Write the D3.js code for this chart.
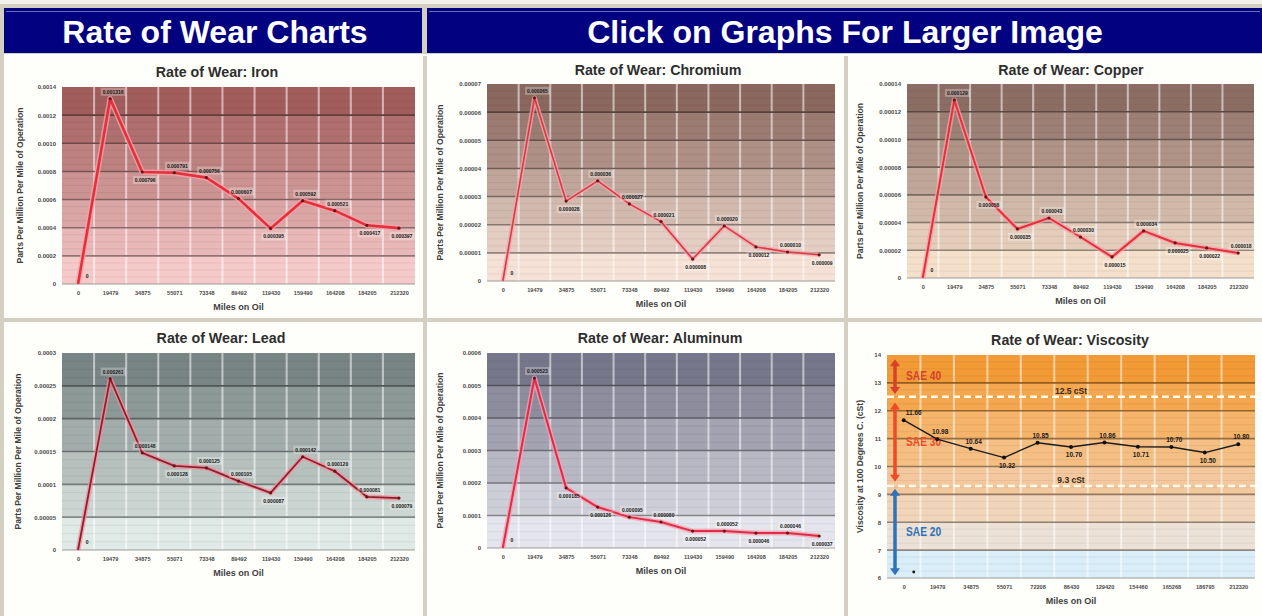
<!DOCTYPE html>
<html>
<head>
<meta charset="utf-8">
<script src="https://cdn.jsdelivr.net/npm/d3@7"></script>
<style>
body { margin: 0; background: #ffffff; }
svg { display: block; font-family: "Liberation Sans", Arial, sans-serif; }
</style>
</head>
<body>
<svg id="page" width="1262" height="616"></svg>
<script>
var headers = ["Rate of Wear Charts", "Click on Graphs For Larger Image"];

var miles = ["0", "19479", "34875", "55071", "73348", "89492", "119430", "159490", "164208", "184205", "212320"];
var viscMiles = ["0", "19479", "34875", "55071", "72208", "86430", "129420", "154460", "165268", "186795", "212320"];

var ironValues = [0, 0.001316, 0.000796, 0.000791, 0.000756, 0.000607, 0.000395, 0.000592, 0.000521, 0.000417, 0.000397];
var chromiumValues = [0, 0.0000651, 0.0000284, 0.0000356, 0.0000274, 0.0000211, 0.0000078, 0.0000196, 0.0000121, 0.0000103, 0.0000093];
var copperValues = [0, 0.0001285, 0.0000585, 0.0000354, 0.0000433, 0.0000296, 0.0000152, 0.000034, 0.0000253, 0.0000217, 0.000018];
var leadValues = [0, 0.000261, 0.000148, 0.000128, 0.000125, 0.000105, 0.000087, 0.000142, 0.00012, 0.000081, 0.000079];
var aluminumValues = [0, 0.000523, 0.000185, 0.000126, 0.000095, 0.00008, 0.000052, 0.000052, 0.000046, 0.000046, 0.000037];
var viscosityValues = [11.66, 10.98, 10.64, 10.32, 10.85, 10.70, 10.86, 10.71, 10.70, 10.50, 10.80];

var ironTicks = [0, 0.0002, 0.0004, 0.0006, 0.0008, 0.0010, 0.0012, 0.0014];
var chromiumTicks = [0, 0.00001, 0.00002, 0.00003, 0.00004, 0.00005, 0.00006, 0.00007];
var copperTicks = [0, 0.00002, 0.00004, 0.00006, 0.00008, 0.00010, 0.00012, 0.00014];
var leadTicks = [0, 0.00005, 0.0001, 0.00015, 0.0002, 0.00025, 0.0003];
var aluminumTicks = [0, 0.0001, 0.0002, 0.0003, 0.0004, 0.0005, 0.0006];
var viscosityTicks = [6, 7, 8, 9, 10, 11, 12, 13, 14];

// oil grade limits on the viscosity chart (cSt)
var gradeLines = [12.5, 9.3];
var gradeNames = ["SAE 40", "SAE 30", "SAE 20"];
var gradeRanges = [[13.85, 12.6], [12.3, 9.45], [9.2, 6.1]];

// which side of the point each value label sits on (a = above, b = below)
var ironSides = "-abaaabaabb";
var chromiumSides = "-abaaababab";
var copperSides = "-abbaababba";
var leadSides = "-aabaabaaab";
var aluminumSides = "-abbaababab";
var viscositySides = "aaababababa";

var svg = d3.select("#page");

// ---- table frame ----
svg.append("rect").attr("width", 1262).attr("height", 616).attr("fill", "#d3cfc2");
svg.append("rect").attr("width", 1262).attr("height", 4).attr("fill", "#f3f1ea");

var headCells = [{x: 4, w: 418, cx: 215}, {x: 427, w: 835, cx: 845}];
headCells.forEach(function(c, i) {
    svg.append("rect").attr("x", c.x).attr("y", 8).attr("width", c.w).attr("height", 45).attr("fill", "#02017f");
    svg.append("line").attr("x1", c.x + 2).attr("x2", c.x + c.w - 2).attr("y1", 11.5).attr("y2", 11.5)
        .attr("stroke", "#6c6cb4").attr("stroke-width", 1);
    svg.append("text").attr("x", c.cx).attr("y", 43).attr("text-anchor", "middle")
        .attr("fill", "#ffffff").style("font-family", "Arial, 'Liberation Sans', sans-serif")
        .style("font-weight", "bold").style("font-size", "32px").text(headers[i]);
});
svg.append("rect").attr("x", 4).attr("y", 54).attr("width", 1258).attr("height", 2).attr("fill", "#ffffff");

var bodyCells = [
    {x: 4, y: 56, w: 419, h: 262}, {x: 427, y: 56, w: 417, h: 262}, {x: 848, y: 56, w: 414, h: 262},
    {x: 4, y: 322, w: 419, h: 294}, {x: 427, y: 322, w: 417, h: 294}, {x: 848, y: 322, w: 414, h: 294}
];
bodyCells.forEach(function(c) {
    svg.append("rect").attr("x", c.x).attr("y", c.y).attr("width", c.w).attr("height", c.h).attr("fill", "#fefefb");
});

// ---- chart panels ----
var panels = [
    {title: "Rate of Wear: Iron", cats: miles, values: ironValues, ticks: ironTicks, sides: ironSides,
     tickFmt: ".4f", lblFmt: ".6f", x0: 62, x1: 415, y0: 87, y1: 284, titleX: 217, titleY: 77, yTitleX: 20,
     top: "#a15d5c", bottom: "#f6c9c9", line: "#e5303c", glow: "#f7a3aa", lineW: 2.6},
    {title: "Rate of Wear: Chromium", cats: miles, values: chromiumValues, ticks: chromiumTicks, sides: chromiumSides,
     tickFmt: ".5f", lblFmt: ".6f", x0: 487, x1: 835, y0: 84, y1: 281, titleX: 658, titleY: 75, yTitleX: 440,
     top: "#8a685e", bottom: "#f6e1d6", line: "#d93a44", glow: "#f3a7ad", lineW: 1.6},
    {title: "Rate of Wear: Copper", cats: miles, values: copperValues, ticks: copperTicks, sides: copperSides,
     tickFmt: ".5f", lblFmt: ".6f", x0: 907, x1: 1254, y0: 84, y1: 278, titleX: 1071, titleY: 75, yTitleX: 860,
     top: "#8c6d64", bottom: "#f4dfcb", line: "#e3303a", glow: "#f5a2a8", lineW: 2},
    {title: "Rate of Wear: Lead", cats: miles, values: leadValues, ticks: leadTicks, sides: leadSides,
     tickFmt: "~f", lblFmt: ".6f", x0: 62, x1: 415, y0: 353, y1: 550, titleX: 221, titleY: 343, yTitleX: 18,
     top: "#798584", bottom: "#dfe9e5", line: "#8c2030", glow: "#f58c9a", lineW: 1.8},
    {title: "Rate of Wear: Aluminum", cats: miles, values: aluminumValues, ticks: aluminumTicks, sides: aluminumSides,
     tickFmt: ".4f", lblFmt: ".6f", x0: 487, x1: 835, y0: 353, y1: 548, titleX: 660, titleY: 343, yTitleX: 440,
     top: "#77778b", bottom: "#e4e4ec", line: "#e02c48", glow: "#f5a0b0", lineW: 2},
    {title: "Rate of Wear: Viscosity", cats: viscMiles, values: viscosityValues, ticks: viscosityTicks, sides: viscositySides,
     tickFmt: "d", lblFmt: ".2f", x0: 887, x1: 1255, y0: 355, y1: 578, titleX: 1070, titleY: 345, yTitleX: 860,
     line: "#1c1c1c", glow: "none", lineW: 1.4, viscosity: true}
];

var viscBandColors = ["#d9eef8", "#ebe1d6", "#f1d5bb", "#f4c89e", "#f5bf84", "#f5b46a", "#f4a74e", "#f29b36"];

panels.forEach(drawPanel);

function drawPanel(p) {
    var g = svg.append("g");
    var x = d3.scalePoint().domain(p.cats).range([p.x0, p.x1]).padding(0.5);
    var y = d3.scaleLinear().domain([p.ticks[0], p.ticks[p.ticks.length - 1]]).range([p.y1, p.y0]);
    var n = p.ticks.length - 1;
    var shade = p.viscosity ? null : d3.interpolateRgb(p.bottom, p.top);

    // banded background
    for (var i = 0; i < n; i++) {
        var fill = p.viscosity ? viscBandColors[i] : shade(i / (n - 1));
        var yt = y(p.ticks[i + 1]), yb = y(p.ticks[i]);
        g.append("rect").attr("x", p.x0).attr("y", yt).attr("width", p.x1 - p.x0).attr("height", yb - yt).attr("fill", fill);
        var minor = d3.color(fill).darker(0.5);
        [0.25, 0.5, 0.75].forEach(function(f) {
            g.append("line").attr("x1", p.x0).attr("x2", p.x1)
                .attr("y1", yt + (yb - yt) * f).attr("y2", yt + (yb - yt) * f)
                .attr("stroke", minor).attr("stroke-opacity", 0.35).attr("stroke-width", 1);
        });
    }

    // vertical stripes between categories
    var step = x.step();
    p.cats.slice(1).forEach(function(c) {
        g.append("line").attr("x1", x(c) - step / 2).attr("x2", x(c) - step / 2).attr("y1", p.y0).attr("y2", p.y1)
            .attr("stroke", "#ffffff").attr("stroke-opacity", 0.55).attr("stroke-width", 2);
    });

    // major gridlines
    p.ticks.slice(1, -1).forEach(function(t, i) {
        var base = p.viscosity ? viscBandColors[i + 1] : shade((i + 0.5) / (n - 1));
        g.append("line").attr("x1", p.x0).attr("x2", p.x1).attr("y1", y(t)).attr("y2", y(t))
            .attr("stroke", d3.color(base).darker(1.4)).attr("stroke-width", 1.6);
    });
    g.append("line").attr("x1", p.x0).attr("x2", p.x1).attr("y1", p.y1).attr("y2", p.y1)
        .attr("stroke", "#9a9a9a").attr("stroke-width", 1);

    if (p.viscosity) drawGrades(g, p, x, y);

    // axes text
    var yAxis = d3.axisLeft(y).tickValues(p.ticks).tickSize(0).tickPadding(6)
        .tickFormat(function(d) { return d === 0 ? "0" : d3.format(p.tickFmt)(d); });
    var ya = g.append("g").attr("transform", "translate(" + p.x0 + ",0)").call(yAxis);
    ya.select(".domain").remove();
    ya.selectAll("text").attr("fill", "#4a4a4a").style("font-size", "6px").style("font-weight", "bold");

    var xAxis = d3.axisBottom(x).tickSize(0).tickPadding(7);
    var xa = g.append("g").attr("transform", "translate(0," + p.y1 + ")").call(xAxis);
    xa.select(".domain").remove();
    xa.selectAll("text").attr("fill", "#4a4a4a").style("font-size", "5.6px").style("font-weight", "bold");

    g.append("text").attr("x", p.titleX).attr("y", p.titleY).attr("text-anchor", "middle")
        .attr("fill", "#2e2e2e").style("font-size", "15.5px").style("font-weight", "bold")
        .attr("transform", "translate(" + p.titleX + ",0) scale(0.92,1) translate(" + (-p.titleX) + ",0)")
        .text(p.title);
    g.append("text").attr("x", (p.x0 + p.x1) / 2).attr("y", p.y1 + 26).attr("text-anchor", "middle")
        .attr("fill", "#3e3e3e").style("font-size", "9px").style("font-weight", "bold").text("Miles on Oil");
    var cy = (p.y0 + p.y1) / 2;
    g.append("text").attr("transform", "translate(" + (p.yTitleX + 3) + "," + cy + ") rotate(-90)")
        .attr("text-anchor", "middle").attr("fill", "#3e3e3e").style("font-size", "8.6px").style("font-weight", "bold")
        .text(p.viscosity ? "Viscosity at 100 Degrees C. (cSt)" : "Parts Per Million Per Mile of Operation");

    // series line
    var pts = p.values.map(function(v, i) { return [x(p.cats[i]), y(v)]; });
    var line = d3.line();
    if (p.glow !== "none") {
        g.append("path").attr("d", line(pts)).attr("fill", "none").attr("stroke", p.glow)
            .attr("stroke-opacity", 0.75).attr("stroke-width", p.lineW + 3).attr("stroke-linejoin", "round");
    }
    g.append("path").attr("d", line(pts)).attr("fill", "none").attr("stroke", p.line)
        .attr("stroke-width", p.lineW).attr("stroke-linejoin", "round");
    g.selectAll("circle.pt").data(pts.slice(p.viscosity ? 0 : 1)).enter().append("circle")
        .attr("cx", function(d) { return d[0]; }).attr("cy", function(d) { return d[1]; })
        .attr("r", p.viscosity ? 2 : 1.6).attr("fill", p.viscosity ? "#111" : "#6a1418");

    // value labels
    p.values.forEach(function(v, i) {
        var s = p.sides.charAt(i);
        var px = pts[i][0], py = pts[i][1];
        var txt, tx, ty;
        if (s === "-") { txt = "0"; tx = px + 9; ty = py - 6; }
        else {
            txt = d3.format(p.lblFmt)(v);
            tx = px + (p.viscosity && i === 0 ? 10 : 3);
            ty = s === "a" ? py - 5 : py + 10;
        }
        var lg = g.append("g");
        var t = lg.append("text").attr("x", tx).attr("y", ty).attr("text-anchor", "middle")
            .attr("fill", "#1a1a1a").style("font-size", p.viscosity ? "6.5px" : "5px").style("font-weight", "bold")
            .text(txt);
        if (s !== "-" && !p.viscosity) {
            var bb = t.node().getBBox();
            lg.insert("rect", "text").attr("x", bb.x - 2).attr("y", bb.y - 1).attr("width", bb.width + 4)
                .attr("height", bb.height + 2).attr("fill", "#ffffff").attr("fill-opacity", 0.28);
        }
    });
    if (p.viscosity) {
        g.append("circle").attr("cx", x(p.cats[0]) + 10).attr("cy", y(6) - 6).attr("r", 1.4).attr("fill", "#111");
    }
}

function drawGrades(g, p, x, y) {
    gradeLines.forEach(function(v) {
        g.append("line").attr("x1", p.x0).attr("x2", p.x1).attr("y1", y(v)).attr("y2", y(v))
            .attr("stroke", "#fffbe8").attr("stroke-width", 2.4).attr("stroke-dasharray", "7,4");
        g.append("text").attr("x", (p.x0 + p.x1) / 2).attr("y", y(v) - 3).attr("text-anchor", "middle")
            .attr("fill", "#3a2a18").style("font-size", "8.5px").style("font-weight", "bold").text(v + " cSt");
    });
    var colors = ["#d8402a", "#ef4a26", "#2f72b8"];
    var ax = p.x0 + 8;
    gradeRanges.forEach(function(r, i) {
        var c = colors[i], ya = y(r[0]), yb = y(r[1]);
        g.append("line").attr("x1", ax).attr("x2", ax).attr("y1", ya + 5).attr("y2", yb - 5)
            .attr("stroke", c).attr("stroke-width", 3.5);
        [[ya, -1], [yb, 1]].forEach(function(e) {
            g.append("path").attr("fill", c)
                .attr("d", "M" + (ax - 5) + "," + (e[0] - 7 * e[1]) + "L" + (ax + 5) + "," + (e[0] - 7 * e[1]) + "L" + ax + "," + e[0] + "Z");
        });
        g.append("text").attr("x", ax + 11).attr("y", (ya + yb) / 2 + 4 - (i === 0 ? 1 : 0))
            .attr("fill", c).style("font-size", "12px").style("font-weight", "bold")
            .attr("transform", "translate(" + (ax + 11) + ",0) scale(0.85,1) translate(" + (-(ax + 11)) + ",0)")
            .text(gradeNames[i]);
    });
}
</script>
</body>
</html>
